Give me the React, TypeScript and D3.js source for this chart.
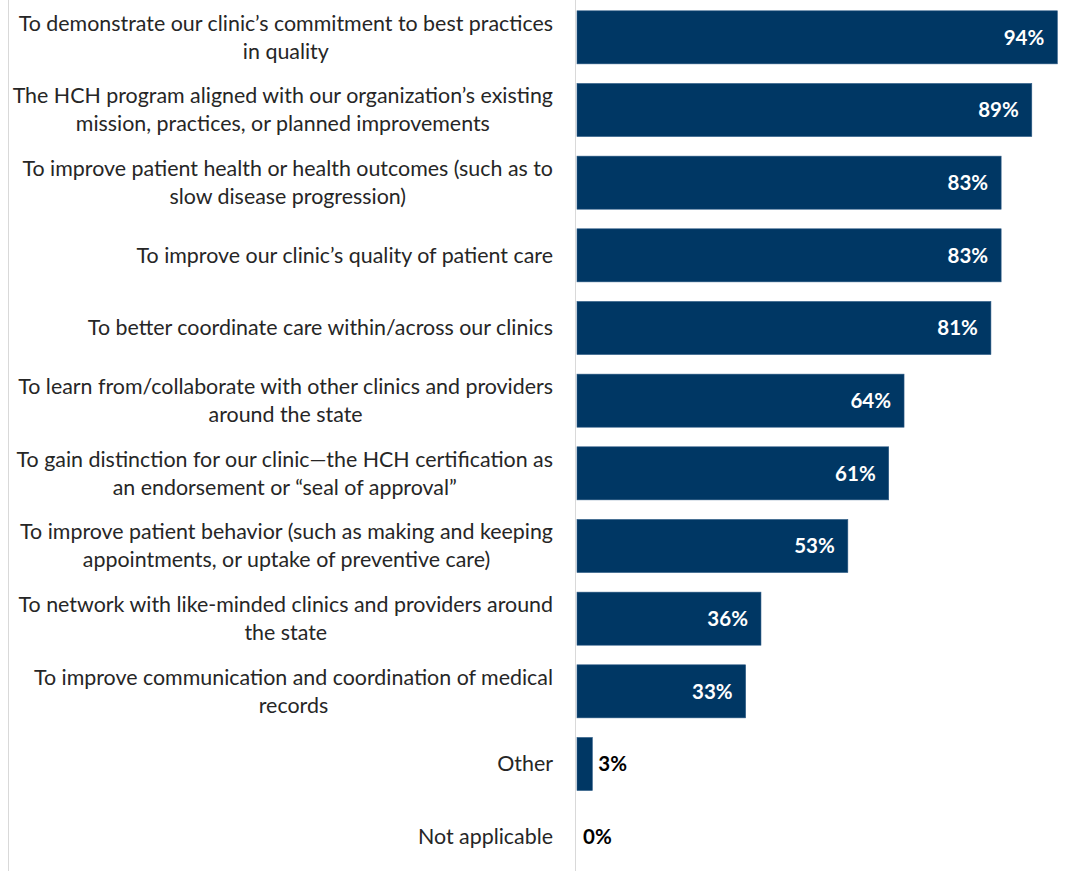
import React, { useEffect, useRef } from "react";
import * as d3 from "d3";

const categories: string[][] = [
  ["To demonstrate our clinic’s commitment to best practices", "in quality"],
  ["The HCH program aligned with our organization’s existing", "mission, practices, or planned improvements"],
  ["To improve patient health or health outcomes (such as to", "slow disease progression)"],
  ["To improve our clinic’s quality of patient care"],
  ["To better coordinate care within/across our clinics"],
  ["To learn from/collaborate with other clinics and providers", "around the state"],
  ["To gain distinction for our clinic—the HCH certification as", "an endorsement or “seal of approval”"],
  ["To improve patient behavior (such as making and keeping", "appointments, or uptake of preventive care)"],
  ["To network with like-minded clinics and providers around", "the state"],
  ["To improve communication and coordination of medical", "records"],
  ["Other"],
  ["Not applicable"],
];
const values: number[] = [94, 89, 83, 83, 81, 64, 61, 53, 36, 33, 3, 0];
const valueLabels: string[] = ["94%", "89%", "83%", "83%", "81%", "64%", "61%", "53%", "36%", "33%", "3%", "0%"];

const W = 1077;
const H = 871;
const FONT = "Lato, 'Open Sans', sans-serif";

export default function App() {
  const ref = useRef<SVGSVGElement>(null);
  useEffect(() => {
    const svg = d3.select(ref.current);
    svg.selectAll("*").remove();
    const keys = categories.map((_, i) => String(i));
    const x = d3.scaleLinear().domain([0, 100]).range([577, 1088]);
    const y = d3.scaleBand<string>().domain(keys).range([1, 873]).paddingInner(0.27).paddingOuter(0.135);

    // borders
    svg.append("line").attr("x1", 8.5).attr("x2", 8.5).attr("y1", 0).attr("y2", H).attr("stroke", "#d9d9d9").attr("stroke-width", 1);
    svg.append("line").attr("x1", 575.5).attr("x2", 575.5).attr("y1", 0).attr("y2", H).attr("stroke", "#d9d9d9").attr("stroke-width", 1);

    const g = svg.append("g");
    keys.forEach((k, i) => {
      const y0 = y(k)!;
      const bw = y.bandwidth();
      const cy = y0 + bw / 2;
      if (values[i] > 0) {
        g.append("rect")
          .attr("x", x(0))
          .attr("y", y0)
          .attr("width", x(values[i]) - x(0))
          .attr("height", bw)
          .attr("fill", "#003764")
          .attr("stroke", "#2c5a85")
          .attr("stroke-width", 0.6);
      }
      const inside = values[i] >= 10;
      g.append("text")
        .attr("x", inside ? x(values[i]) - 13 : x(values[i]) + 6)
        .attr("y", cy)
        .attr("dy", "0.35em")
        .attr("text-anchor", inside ? "end" : "start")
        .attr("fill", inside ? "#ffffff" : "#000000")
        .attr("font-weight", "bold")
        .attr("font-size", 20.5)
        .attr("font-family", FONT)
        .text(valueLabels[i]);

      // category label
      const lines = categories[i];
      const lh = 28;
      const tg = g.append("g");
      const texts = lines.map((ln, j) =>
        tg.append("text")
          .attr("y", cy + (j - (lines.length - 1) / 2) * lh)
          .attr("dy", "0.35em")
          .attr("text-anchor", "middle")
          .attr("fill", "#262626")
          .attr("font-size", 21.4)
          .attr("font-family", FONT)
          .text(ln)
      );
      const widths = texts.map((t) => (t.node() as SVGTextElement).getComputedTextLength());
      const maxW = Math.max(...widths);
      const center = 553 - maxW / 2;
      texts.forEach((t) => t.attr("x", center));
    });
  }, []);
  return (
    <svg ref={ref} width={W} height={H} style={{ position: "absolute", left: 0, top: 0, background: "#fff" }} />
  );
}
